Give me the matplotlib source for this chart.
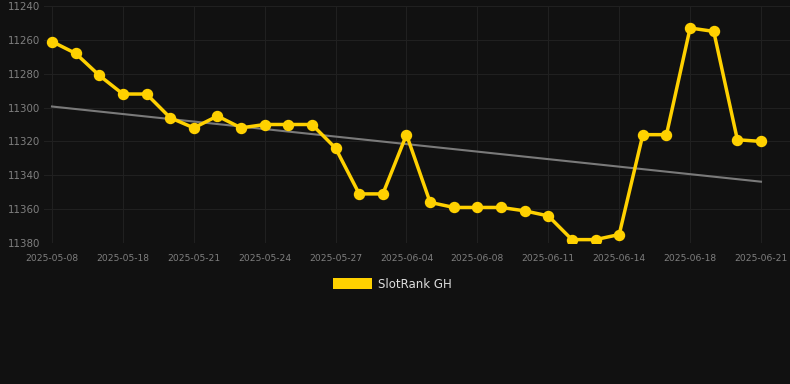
import numpy as np
import matplotlib
matplotlib.use("Agg")
import matplotlib.pyplot as plt
from matplotlib.patches import Patch

# data
dates = ["2025-05-08", "2025-05-12", "2025-05-15", "2025-05-18", "2025-05-19",
         "2025-05-20", "2025-05-21", "2025-05-22", "2025-05-23", "2025-05-24",
         "2025-05-25", "2025-05-26", "2025-05-27", "2025-05-29", "2025-06-01",
         "2025-06-04", "2025-06-05", "2025-06-06", "2025-06-08", "2025-06-09",
         "2025-06-10", "2025-06-11", "2025-06-12", "2025-06-13", "2025-06-14",
         "2025-06-15", "2025-06-17", "2025-06-18", "2025-06-19", "2025-06-20",
         "2025-06-21"]
rank = [11261, 11268, 11281, 11292, 11292, 11306, 11312, 11305, 11312, 11310,
        11310, 11310, 11324, 11351, 11351, 11316, 11356, 11359, 11359, 11359,
        11361, 11364, 11378, 11378, 11375, 11316, 11316, 11253, 11255, 11319,
        11320]
yticks = [11240, 11260, 11280, 11300, 11320, 11340, 11360, 11380]

BG = "#111111"
GOLD = "#FFD100"

fig = plt.figure(figsize=(7.9, 3.84), dpi=100, facecolor=BG)
ax = fig.add_axes([44 / 790, 1 - 243 / 384, 746 / 790, 237 / 384])
ax.set_facecolor(BG)

x = np.arange(len(dates))
y = np.array(rank)

# linear trend
k, b = np.polyfit(x, y, 1)
ax.plot([x[0], x[-1]], [k * x[0] + b, k * x[-1] + b], color="#7a7a7a", lw=1.5, zorder=2)

ax.plot(x, y, color=GOLD, lw=2.5, marker="o", ms=7.2, zorder=3)

ax.set_xlim(-8 / 23.633, 30 + 29 / 23.633)
ax.set_ylim(11380, 11240)
ax.set_yticks(yticks)
ax.set_xticks(x[::3])
ax.set_xticklabels(dates[::3])

ax.grid(True, color="#202020", lw=0.8)
ax.set_axisbelow(True)
for s in ax.spines.values():
    s.set_visible(False)
ax.tick_params(axis="both", length=0, colors="#7f7f7f")
ax.tick_params(axis="y", labelsize=7.4, pad=3)
ax.tick_params(axis="x", labelsize=6.6, pad=8)

leg = fig.legend(handles=[Patch(facecolor=GOLD, label="SlotRank GH")],
                 loc="center", bbox_to_anchor=(392 / 790, 1 - 284 / 384),
                 frameon=False, fontsize=8.5, handlelength=3.3, handleheight=1.0,
                 handletextpad=0.5)
for t in leg.get_texts():
    t.set_color("#dddddd")

fig.savefig("out.png", dpi=100, facecolor=BG)
